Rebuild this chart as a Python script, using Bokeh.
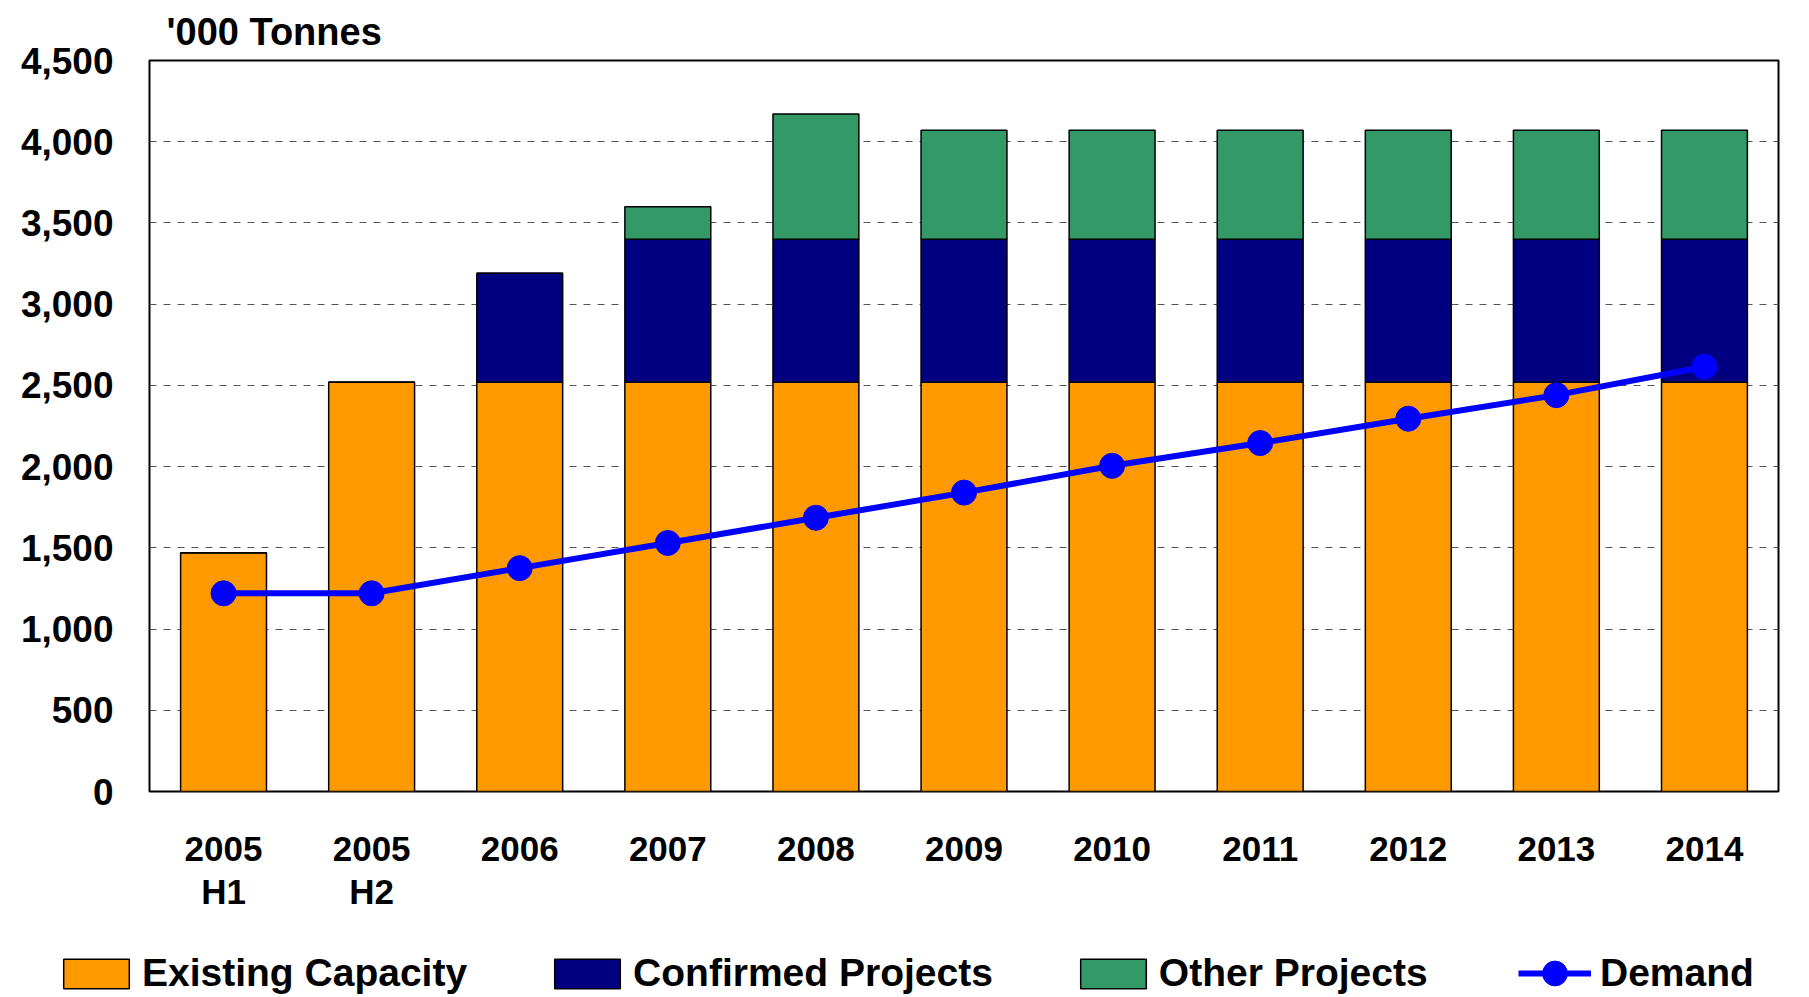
from bokeh.plotting import figure
from bokeh.models import FixedTicker, NumeralTickFormatter, Title, Legend, FactorRange, Range1d
from bokeh.embed import file_html
from bokeh.resources import INLINE

categories = ["2005\nH1", "2005\nH2", "2006", "2007", "2008", "2009", "2010", "2011", "2012", "2013", "2014"]
existing = [1470, 2520, 2520, 2520, 2520, 2520, 2520, 2520, 2520, 2520, 2520]
confirmed = [0, 0, 670, 880, 880, 880, 880, 880, 880, 880, 880]
other = [0, 0, 0, 200, 770, 670, 670, 670, 670, 670, 670]
demand = [1220, 1220, 1375, 1530, 1685, 1840, 2005, 2145, 2295, 2440, 2615]
y_ticks = [0, 500, 1000, 1500, 2000, 2500, 3000, 3500, 4000, 4500]
series_names = ["Existing Capacity", "Confirmed Projects", "Other Projects", "Demand"]
bar_colors = ["#FF9900", "#000080", "#339966"]
line_color = "#0000FF"

FONT = "Liberation Sans"
data = dict(cat=categories, existing=existing, confirmed=confirmed, other=other)


def draw_series(fig):
    bars = fig.vbar_stack(["existing", "confirmed", "other"], x="cat", width=0.58, source=data,
                          color=bar_colors, line_color="black", line_width=1.5)
    ln = fig.line(categories, demand, line_color=line_color, line_width=6)
    sc = fig.scatter(categories, demand, size=25, fill_color=line_color, line_color=line_color)
    return [[bars[0]], [bars[1]], [bars[2]], [ln, sc]]


p = figure(x_range=FactorRange(*categories), y_range=(0, 4500), width=1807, height=923,
           output_backend="svg", toolbar_location=None,
           min_border_left=149, min_border_right=29, min_border_top=58, min_border_bottom=132)
draw_series(p)

p.outline_line_color = "black"
p.outline_line_width = 2
p.xgrid.grid_line_color = None
p.ygrid.grid_line_color = "#555555"
p.ygrid.grid_line_dash = "7 7"
p.ygrid.grid_line_width = 1.2
p.yaxis.ticker = FixedTicker(ticks=y_ticks)
p.yaxis.formatter = NumeralTickFormatter(format="0,0")

for ax in (p.xaxis[0], p.yaxis[0]):
    ax.axis_line_color = None
    ax.major_tick_line_color = None
    ax.minor_tick_line_color = None
    ax.major_tick_out = 0
    ax.major_tick_in = 0
    ax.major_label_text_font = FONT
    ax.major_label_text_font_style = "bold"
    ax.major_label_text_color = "black"

p.yaxis.major_label_text_font_size = "37px"
p.yaxis.major_label_standoff = 36
p.xaxis.major_label_text_font_size = "35px"
p.xaxis.major_label_standoff = 37
p.xaxis.major_label_text_line_height = 1.12

title = Title(text="'000 Tonnes", align="left", offset=17, standoff=16,
              text_font=FONT, text_font_style="bold", text_font_size="38px",
              text_line_height=1.0, text_color="black")
p.add_layout(title, "above")

# legend strip below the chart: same series, hidden renderers, only their legend glyphs show
q = figure(width=1807, height=72, output_backend="svg", toolbar_location=None,
           x_range=FactorRange(*categories), y_range=Range1d(-2, -1),
           x_axis_location=None, y_axis_location=None,
           min_border_left=0, min_border_right=0, min_border_top=0, min_border_bottom=0)
q.outline_line_color = None
q.xgrid.visible = False
q.ygrid.visible = False
items = draw_series(q)
for group in items:
    for r in group:
        r.visible = False

common = dict(orientation="horizontal", label_text_font=FONT, label_text_font_style="bold",
              label_text_font_size="39px", label_text_color="black",
              padding=0, margin=0, border_line_color=None, background_fill_alpha=0,
              inactive_fill_alpha=0)

legend_bars = Legend(items=list(zip(series_names[:3], items[:3])), location=(55, 0),
                     glyph_width=82, glyph_height=37, label_standoff=5, spacing=79, **common)
legend_line = Legend(items=[(series_names[3], items[3])], location=(1518, -9),
                     glyph_width=73, glyph_height=62, label_standoff=9, **common)
q.add_layout(legend_bars, "center")
q.add_layout(legend_line, "center")

open("out.html", "w").write(file_html([p, q], INLINE))
